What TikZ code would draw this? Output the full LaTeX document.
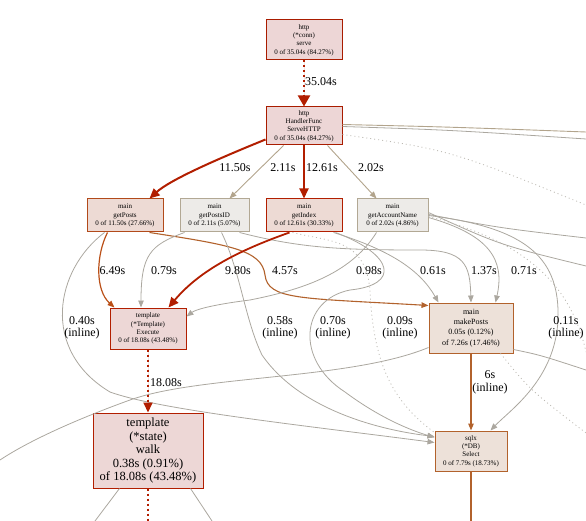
\documentclass[tikz,border=0pt]{standalone}
\usepackage{fontspec}
\setmainfont{Liberation Serif}
\usetikzlibrary{arrows.meta}
\definecolor{dred}{HTML}{B21E00}
\definecolor{ored}{HTML}{B24A1A}
\definecolor{obrown}{HTML}{B2622C}
\definecolor{tan}{HTML}{B2A48C}
\definecolor{grayE}{HTML}{ABA79F}
\definecolor{fillR}{HTML}{EDD6D6}
\definecolor{fillO}{HTML}{EDDAD4}
\definecolor{fillB}{HTML}{EDE1D9}
\definecolor{fillG}{HTML}{EDEBE8}
\definecolor{bordG}{HTML}{B2A894}
\begin{document}
\begin{tikzpicture}[x=1pt,y=-1pt,
  box/.style={draw, line width=1pt, inner sep=0pt, align=center,
    font=\fontsize{7}{8.3}\selectfont},
  lbl/.style={inner sep=0pt, align=center, font=\fontsize{12}{12.5}\selectfont},
  arr/.style={-{Triangle[length=7pt,width=5.5pt]}},
  bigarr/.style={-{Triangle[length=11pt,width=12pt]}},
  thin/.style={arr, line width=0.8pt, draw=grayE},
  tanE/.style={arr, line width=0.9pt, draw=tan},
  redE/.style={-{Triangle[length=10pt,width=9pt]}, line width=2pt, draw=dred},
  dots/.style={dash pattern=on 2pt off 3pt},
  gdots/.style={line width=0.8pt, draw=grayE!80, dash pattern=on 1pt off 3pt}]
\useasboundingbox (0,0) rectangle (586,521);
\clip (0,0) rectangle (586,521);

% nodes
\node[box, draw=dred!95!black, fill=fillR, minimum width=76pt, minimum height=40pt] (serve) at (304,40) {http\\(*conn)\\serve\\0 of 35.04s (84.27\%)};
\node[box, draw=dred!95!black, fill=fillR, minimum width=76pt, minimum height=38pt] (handler) at (304,126) {http\\HandlerFunc\\ServeHTTP\\0 of 35.04s (84.27\%)};
\node[box, draw=ored, fill=fillO, minimum width=76pt, minimum height=33pt] (getPosts) at (125,215.5) {main\\getPosts\\0 of 11.50s (27.66\%)};
\node[box, draw=bordG, fill=fillG, minimum width=69pt, minimum height=33pt] (getPostsID) at (214.5,215.5) {main\\getPostsID\\0 of 2.11s (5.07\%)};
\node[box, draw=dred, fill=fillO, minimum width=76pt, minimum height=33pt] (getIndex) at (304,215.5) {main\\getIndex\\0 of 12.61s (30.33\%)};
\node[box, draw=bordG, fill=fillG, minimum width=71pt, minimum height=33pt] (getAcc) at (392.5,215.5) {main\\getAccountName\\0 of 2.02s (4.86\%)};
\node[box, draw=dred, fill=fillR!80!fillO, minimum width=76pt, minimum height=41pt] (execute) at (148,328.5) {template\\(*Template)\\Execute\\0 of 18.08s (43.48\%)};
\node[box, draw=obrown, fill=fillB, minimum width=84pt, minimum height=50pt, font=\fontsize{8}{10.3}\selectfont] (makePosts) at (471,328) {main\\makePosts\\0.05s (0.12\%)\\of 7.26s (17.46\%)};
\node[box, draw=dred, fill=fillR!80!fillO, minimum width=110pt, minimum height=75pt, font=\fontsize{12.5}{13.5}\selectfont] (walk) at (148,450.5) {template\\(*state)\\walk\\0.38s (0.91\%)\\of 18.08s (43.48\%)};
\node[box, draw=obrown, fill=fillB, minimum width=72pt, minimum height=40pt] (sqlx) at (471,451) {sqlx\\(*DB)\\Select\\0 of 7.79s (18.73\%)};

% free ends
\coordinate (r1) at (586,132);
\coordinate (r2) at (586,139);
\coordinate (r3) at (586,205);
\coordinate (r4) at (586,238);
\coordinate (r5) at (586,266);
\coordinate (r6) at (586,352);
\coordinate (r7) at (586,370);
\coordinate (r8) at (586,433);
\coordinate (l1) at (0,460);
\coordinate (b1) at (95,521);
\coordinate (b2) at (148,521);
\coordinate (b3) at (212,521);
\coordinate (b4) at (471,521);

% edges from serve / handler
\draw[bigarr, line width=2pt, draw=dred, fill=dred, dots] (serve.south) -- (handler.north);
\draw[redE, line width=2pt] ([yshift=-33pt]handler.north west) .. controls (215,160) and (170,180) .. ([xshift=63pt]getPosts.north west);
\draw[tanE] ([xshift=18pt]handler.south west) -- ([xshift=50pt]getPostsID.north west);
\draw[redE, line width=1.8pt] (handler.south) -- (getIndex.north);
\draw[tanE] ([xshift=-15pt]handler.south east) -- ([xshift=-52pt]getAcc.north east);
\draw[line width=0.9pt, draw=tan] ([yshift=-18pt]handler.north east) .. controls (450,127) .. (r1);
\draw[line width=0.8pt, draw=grayE] ([yshift=-20pt]handler.north east) .. controls (450,130) .. (r2);
\draw[gdots] ([yshift=-28pt]handler.north east) .. controls (450,150) .. (r3);

% from getPosts
\draw[arr, line width=1.2pt, draw=ored!90!orange] ([xshift=21pt]getPosts.south west) .. controls (96,255) and (95,290) .. ([xshift=5pt]execute.north west);
\draw[arr, line width=1.1pt, draw=obrown] ([xshift=-14pt]getPosts.south east) .. controls (230,245) and (262,250) .. (265,275) .. controls (268,300) and (300,298) .. ([yshift=-3pt]makePosts.north west);
\draw[thin] ([xshift=18pt]getPosts.south west) .. controls (55,270) and (40,350) .. (110,392) .. controls (160,410) and (300,425) .. ([yshift=-12pt]sqlx.north west);

% from getPostsID
\draw[thin] ([xshift=5pt]getPostsID.south west) .. controls (150,245) and (141,255) .. ([xshift=-7pt]execute.north);
\draw[thin] ([xshift=42pt]getPostsID.south west) .. controls (240,270) and (245,320) .. (262,355) .. controls (300,410) and (380,430) .. ([yshift=-6pt]sqlx.north west);
\draw[thin] ([xshift=-10pt]getPostsID.south east) .. controls (300,248) and (340,250) .. (420,250) .. controls (465,250) and (470,265) .. (makePosts.north);

% from getIndex
\draw[redE, line width=1.8pt] ([xshift=24pt]getIndex.south west) .. controls (240,250) and (200,270) .. ([xshift=-18pt]execute.north east);
\draw[thin] ([xshift=-9pt]getIndex.south east) .. controls (390,250) and (420,270) .. ([xshift=10pt]makePosts.north west);
\draw[thin] ([xshift=-7pt]getIndex.south east) .. controls (395,255) and (400,285) .. (350,290) .. controls (300,300) and (295,360) .. (345,392) .. controls (380,418) and (410,430) .. ([yshift=-7pt]sqlx.north west);
\draw[gdots] ([xshift=27pt]getIndex.south west) .. controls (330,242) and (365,238) .. (370,290) .. controls (373,360) and (390,400) .. ([yshift=-2pt]sqlx.north west);

% from getAccountName
\draw[thin] ([xshift=-16pt]getAcc.south) .. controls (350,275) and (300,290) .. (250,300) .. controls (210,305) and (195,310) .. ([yshift=-9pt]execute.north east);
\draw[thin] ([yshift=-2pt]getAcc.east) .. controls (490,235) and (505,260) .. ([xshift=-18pt]makePosts.north east);
\draw[thin] (getAcc.east) .. controls (530,228) and (560,260) .. (558,320) .. controls (555,380) and (510,410) .. ([xshift=-17pt]sqlx.north east);
\draw[line width=0.8pt, draw=grayE] ([yshift=1pt]getAcc.east) .. controls (500,228) .. (r4);
\draw[line width=0.8pt, draw=grayE] ([yshift=3pt]getAcc.east) .. controls (500,245) .. (r5);
\draw[gdots] ([yshift=-1pt]getAcc.east) .. controls (520,240) and (570,280) .. (r6);

% from makePosts
\draw[arr, line width=1.3pt, draw=obrown] (makePosts.south) -- (sqlx.north);
\draw[line width=0.8pt, draw=grayE] ([yshift=6pt]makePosts.south west) .. controls (350,380) and (200,375) .. (130,400) .. controls (80,418) and (30,440) .. (l1);
\draw[line width=0.8pt, draw=grayE] ([yshift=4pt]makePosts.south east) .. controls (540,355) .. (r7);
\draw[gdots] ([xshift=-13pt]makePosts.south east) .. controls (530,390) .. (r8);

% from execute / walk / sqlx
\draw[-{Triangle[length=10pt,width=9pt]}, line width=2pt, draw=dred, fill=dred, dots] (execute.south) -- (walk.north);
\draw[line width=0.8pt, draw=grayE] ([xshift=27pt]walk.south west) -- (b1);
\draw[line width=2pt, draw=dred, dots] (walk.south) -- (b2);
\draw[line width=0.8pt, draw=grayE] ([xshift=-13pt]walk.south east) -- (b3);
\draw[line width=1.3pt, draw=obrown] (sqlx.south) -- (b4);

% labels
\node[lbl] (L1) at (321,82) {35.04s};
\node[lbl] (L2) at (235,168) {11.50s};
\node[lbl] (L3) at (283,168) {2.11s};
\node[lbl] (L4) at (322,168) {12.61s};
\node[lbl] (L5) at (371,168) {2.02s};
\node[lbl] (L6) at (112.5,271) {6.49s};
\node[lbl] (L7) at (164,271) {0.79s};
\node[lbl] (L8) at (238,271) {9.80s};
\node[lbl] (L9) at (285,271) {4.57s};
\node[lbl] (L10) at (369,271) {0.98s};
\node[lbl] (L11) at (433,271) {0.61s};
\node[lbl] (L12) at (484,271) {1.37s};
\node[lbl] (L13) at (524,271) {0.71s};
\node[lbl] (L14) at (82,328) {0.40s\\(inline)};
\node[lbl] (L15) at (280,328) {0.58s\\(inline)};
\node[lbl] (L16) at (333,328) {0.70s\\(inline)};
\node[lbl] (L17) at (400,328) {0.09s\\(inline)};
\node[lbl] (L18) at (566,328) {0.11s\\(inline)};
\node[lbl] (L19) at (166,383) {18.08s};
\node[lbl] (L20) at (490,382.5) {6s\\(inline)};
\end{tikzpicture}
\end{document}
